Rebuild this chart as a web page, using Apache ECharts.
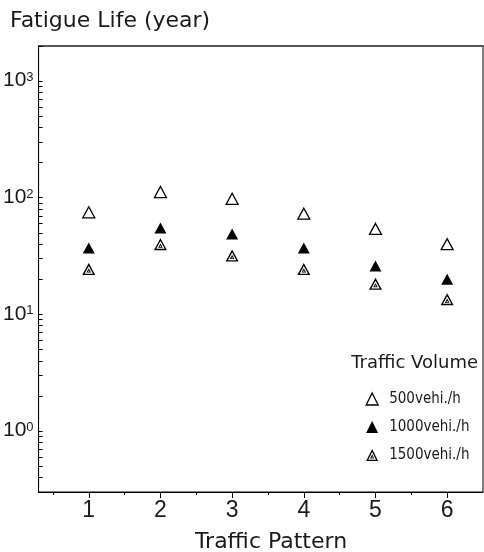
<!DOCTYPE html>
<html>
<head>
<meta charset="utf-8">
<title>Fatigue Life by Traffic Pattern</title>
<script src="https://cdn.jsdelivr.net/npm/echarts@6/dist/echarts.min.js"></script>
<style>
  html, body { margin: 0; padding: 0; background: #fff; }
  #chart { width: 484px; height: 552px; }
</style>
</head>
<body>
<div id="chart"></div>
<script>
// Traffic patterns on the x axis
var patterns = [1, 2, 3, 4, 5, 6];

// Fatigue life (years) per traffic volume
var life500 = [75, 112, 98, 73, 54, 40];
var life1000 = [37, 55, 49, 37, 26, 20];
var life1500 = [24.5, 40, 32, 24.5, 18.3, 13.5];

var seriesNames = ['500vehi./h', '1000vehi./h', '1500vehi./h'];

// Tick positions
var xMajorTicks = [1, 2, 3, 4, 5, 6];
var xMinorTicks = [0.5, 1.5, 2.5, 3.5, 4.5, 5.5];
var yDecades = [1, 10, 100, 1000];

// Log-axis ticks: 2..9 within each decade, plus the decades themselves
var yTicks = [];
[0.1, 1, 10, 100, 1000].forEach(function (d) {
  for (var k = 1; k <= 9; k++) {
    var v = +(k * d).toPrecision(3);
    if (v >= 0.3 && v <= 2000) yTicks.push(v);
  }
});

// Marker shapes (path symbols keep their aspect in the legend too)
var triangle = 'path://M50,0 L100,100 L0,100 Z';
var doubleTriangle = 'path://M50,0 L100,100 L0,100 Z ' +
  'M50,24.6 L17.8,89 L82.2,89 Z ' +
  'M50,44.7 L67.6,80 L32.4,80 Z ' +
  'M50,60.4 L43.7,73 L56.3,73 Z';

function pairs(vals) {
  return patterns.map(function (p, i) { return [p, vals[i]]; });
}

var chart = echarts.init(document.getElementById('chart'), null, { renderer: 'canvas' });

var textColor = '#1a1a1a';
var labelFont = '"Liberation Sans", Arial, sans-serif';
var titleFont = '"DejaVu Sans", sans-serif';
var legendFont = '"DejaVu Sans Condensed", "Liberation Sans", sans-serif';

chart.setOption({
  animation: false,
  backgroundColor: '#fff',
  grid: {
    left: 38, top: 46, width: 445, height: 446,
    show: true, borderColor: '#000', borderWidth: 1, backgroundColor: 'transparent'
  },
  xAxis: [
    {
      type: 'value', min: 0.3, max: 6.5, position: 'bottom',
      axisLine: { onZero: false, lineStyle: { color: '#000', width: 1 } },
      axisTick: { show: true, customValues: xMajorTicks, length: 6, lineStyle: { color: '#000' } },
      axisLabel: {
        customValues: xMajorTicks, margin: 7, color: textColor,
        fontSize: 23, fontFamily: labelFont
      },
      splitLine: { show: false }
    },
    {
      type: 'value', min: 0.3, max: 6.5, position: 'bottom',
      axisLine: { show: false, onZero: false },
      axisTick: { show: true, customValues: xMinorTicks, length: 3, lineStyle: { color: '#000' } },
      axisLabel: { show: false },
      splitLine: { show: false }
    },
    {
      type: 'value', min: 0.3, max: 6.5, position: 'top',
      axisLine: { show: true, onZero: false, lineStyle: { color: '#555', width: 2 } },
      axisTick: { show: false },
      axisLabel: { show: false },
      splitLine: { show: false }
    }
  ],
  yAxis: {
    type: 'log', logBase: 10, min: 0.3, max: 2000,
    axisLine: { show: true, onZero: false, lineStyle: { color: '#000', width: 1 } },
    axisTick: { show: true, inside: true, customValues: yTicks, length: 4, lineStyle: { color: '#000' } },
    axisLabel: {
      customValues: yDecades, margin: 5, color: textColor,
      formatter: function (v) {
        return '{b|10}{s|' + Math.round(Math.log10(v)) + '}';
      },
      rich: {
        b: { fontSize: 21, fontFamily: labelFont, color: textColor, lineHeight: 20, padding: [8, 0, 0, 0], verticalAlign: 'bottom' },
        s: { fontSize: 13, fontFamily: labelFont, color: textColor, lineHeight: 18, verticalAlign: 'top' }
      }
    },
    splitLine: { show: false }
  },
  legend: {
    orient: 'vertical', left: 365.5, top: 390, padding: 0,
    itemWidth: 24, itemHeight: 12, itemGap: 10,
    symbolKeepAspect: true,
    selectedMode: false,
    textStyle: { fontFamily: legendFont, fontSize: 15, lineHeight: 18, color: textColor },
    data: [
      { name: seriesNames[0], icon: triangle, itemStyle: { color: '#fff', borderColor: '#000', borderWidth: 1.3 } },
      { name: seriesNames[1], icon: triangle, itemStyle: { color: '#000', borderWidth: 0 } },
      { name: seriesNames[2], icon: doubleTriangle, itemStyle: { color: '#000', borderWidth: 0 } }
    ]
  },
  graphic: [
    {
      type: 'text', x: 10, y: 21,
      style: { text: 'Fatigue Life (year)', fontSize: 22, fontFamily: titleFont, fill: textColor, verticalAlign: 'middle' }
    },
    {
      type: 'text', x: 271, y: 542,
      style: { text: 'Traffic Pattern', fontSize: 22, fontFamily: titleFont, fill: textColor, align: 'center', verticalAlign: 'middle' }
    },
    {
      type: 'text', x: 478, y: 363,
      style: { text: 'Traffic Volume', fontSize: 18, fontFamily: titleFont, fill: textColor, align: 'right', verticalAlign: 'middle' }
    }
  ],
  series: [
    {
      name: seriesNames[0], type: 'scatter', xAxisIndex: 0, yAxisIndex: 0,
      symbol: triangle, symbolSize: [12, 11], symbolKeepAspect: false,
      itemStyle: { color: '#fff', borderColor: '#000', borderWidth: 1.3, opacity: 1 },
      data: pairs(life500)
    },
    {
      name: seriesNames[1], type: 'scatter', xAxisIndex: 0, yAxisIndex: 0,
      symbol: triangle, symbolSize: [12, 11], symbolKeepAspect: false,
      itemStyle: { color: '#000', borderWidth: 0, opacity: 1 },
      data: pairs(life1000)
    },
    {
      name: seriesNames[2], type: 'scatter', xAxisIndex: 0, yAxisIndex: 0,
      symbol: doubleTriangle, symbolSize: [13, 12], symbolKeepAspect: false,
      itemStyle: { color: '#000', borderWidth: 0, opacity: 1 },
      data: pairs(life1500)
    }
  ]
});
</script>
</body>
</html>
